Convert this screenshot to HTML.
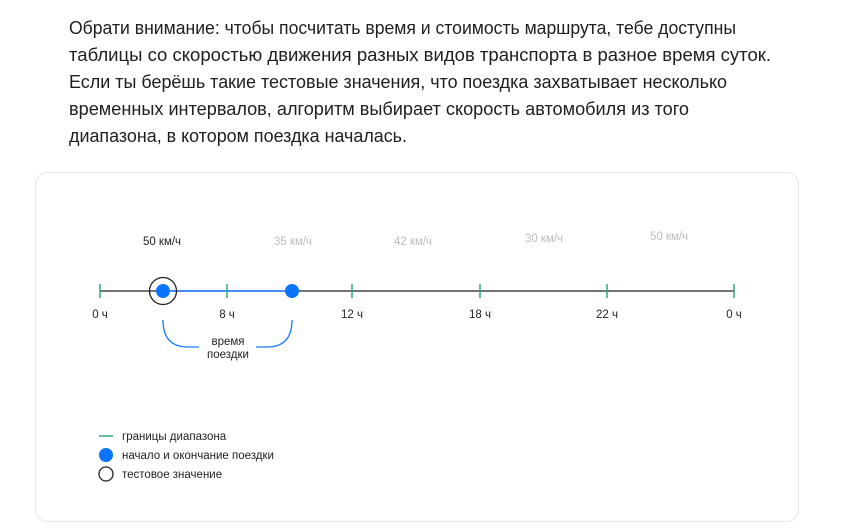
<!DOCTYPE html>
<html><head><meta charset="utf-8"><style>
html,body{margin:0;padding:0;background:#fff;width:851px;height:529px;overflow:hidden}
svg{display:block}
</style></head><body>
<svg width="851" height="529" xmlns="http://www.w3.org/2000/svg" font-family="Liberation Sans, sans-serif">
<g font-size="18" fill="#21201f">
<text x="69" y="34" textLength="667" lengthAdjust="spacingAndGlyphs">Обрати внимание: чтобы посчитать время и стоимость маршрута, тебе доступны</text>
<text x="69" y="61" textLength="702" lengthAdjust="spacingAndGlyphs">таблицы со скоростью движения разных видов транспорта в разное время суток.</text>
<text x="69" y="88" textLength="658" lengthAdjust="spacingAndGlyphs">Если ты берёшь такие тестовые значения, что поездка захватывает несколько</text>
<text x="69" y="115" textLength="620" lengthAdjust="spacingAndGlyphs">временных интервалов, алгоритм выбирает скорость автомобиля из того</text>
<text x="69" y="142" textLength="338" lengthAdjust="spacingAndGlyphs">диапазона, в котором поездка началась.</text>
</g>
<rect x="35.5" y="172.5" width="763" height="349" rx="12" fill="#fff" stroke="#e6e6e6"/>
<g font-size="11.5" text-anchor="middle">
<text x="162" y="245" fill="#222">50 км/ч</text>
<text x="293" y="245" fill="#bbb">35 км/ч</text>
<text x="413" y="245" fill="#bbb">42 км/ч</text>
<text x="544" y="242" fill="#bbb">30 км/ч</text>
<text x="669" y="240" fill="#bbb">50 км/ч</text>
</g>
<line x1="100" y1="291" x2="734" y2="291" stroke="#222" stroke-width="1.2"/>
<line x1="163" y1="291" x2="292" y2="291" stroke="#1a7cff" stroke-width="1.5"/>
<g stroke="#2ea87a" stroke-width="1.5">
<line x1="100" y1="284" x2="100" y2="298"/><line x1="227" y1="284" x2="227" y2="298"/>
<line x1="352" y1="284" x2="352" y2="298"/><line x1="480" y1="284" x2="480" y2="298"/>
<line x1="607" y1="284" x2="607" y2="298"/><line x1="734" y1="284" x2="734" y2="298"/>
</g>
<circle cx="163" cy="291" r="13.5" fill="none" stroke="#222" stroke-width="1.3"/>
<circle cx="163" cy="291" r="7" fill="#0a74ff"/>
<circle cx="292" cy="291" r="7" fill="#0a74ff"/>
<g font-size="11.5" fill="#222" text-anchor="middle">
<text x="100" y="318">0 ч</text><text x="227" y="318">8 ч</text><text x="352" y="318">12 ч</text>
<text x="480" y="318">18 ч</text><text x="607" y="318">22 ч</text><text x="734" y="318">0 ч</text>
<text x="228" y="345">время</text><text x="228" y="358">поездки</text>
</g>
<path d="M163 320 Q163 347 188 347 H199" fill="none" stroke="#1a7cff" stroke-width="1.3"/>
<path d="M292 320 Q292 347 267 347 H256" fill="none" stroke="#1a7cff" stroke-width="1.3"/>
<line x1="99" y1="436" x2="113" y2="436" stroke="#2ea87a" stroke-width="1.5"/>
<circle cx="106" cy="455" r="7" fill="#0a74ff"/>
<circle cx="106" cy="474" r="7" fill="none" stroke="#222" stroke-width="1.3"/>
<g font-size="11.5" fill="#222">
<text x="122" y="440">границы диапазона</text>
<text x="122" y="459">начало и окончание поездки</text>
<text x="122" y="478">тестовое значение</text>
</g>
</svg>
</body></html>
